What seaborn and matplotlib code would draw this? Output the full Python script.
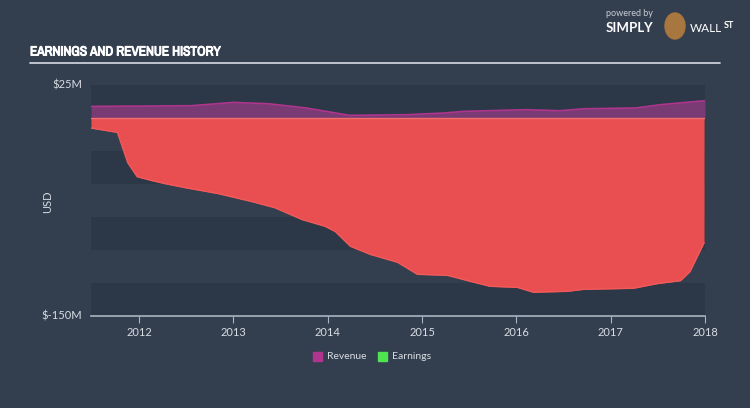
import matplotlib
matplotlib.use("Agg")
import matplotlib.pyplot as plt
import matplotlib.patheffects as pe
from matplotlib import font_manager
import seaborn as sns
import pandas as pd

# ---- data (USD millions) ----
earn_years = [2011.49, 2011.77, 2011.88, 2011.98, 2012.14, 2012.28, 2012.49, 2012.84,
              2013.20, 2013.44, 2013.73, 2013.97, 2014.08, 2014.24, 2014.45, 2014.74,
              2014.95, 2015.27, 2015.51, 2015.72, 2016.01, 2016.18, 2016.54, 2016.71,
              2017.24, 2017.49, 2017.74, 2017.84, 2017.99]
earnings = [-7.6, -10.9, -33.9, -44.5, -47.5, -49.8, -52.8, -57.3,
            -63.4, -68.0, -77.0, -82.0, -86.0, -97.2, -103.3, -109.3,
            -118.4, -119.2, -123.7, -127.5, -128.3, -132.0, -131.3, -129.8,
            -129.0, -125.5, -123.2, -116.4, -94.5]

rev_years = [2011.49, 2012.0, 2012.55, 2012.86, 2013.0, 2013.37, 2013.77, 2014.23,
             2014.84, 2015.24, 2015.44, 2016.10, 2016.46, 2016.72, 2017.27, 2017.53, 2018.0]
revenue = [8.8, 9.0, 9.3, 11.0, 11.8, 10.8, 7.6, 2.0,
           2.5, 3.8, 5.0, 6.3, 5.5, 7.0, 7.6, 10.1, 13.1]

year_ticks = [2012, 2013, 2014, 2015, 2016, 2017, 2018]
y_ticks = [25, -150]
y_tick_labels = ["$25M", "$-150M"]
legend_labels = ["Revenue", "Earnings"]

BG = "#333f4f"
DARK = "#2c3847"
REV_LINE = "#b0358f"
REV_FILL = "#7a3a73"
EARN_FILL = "#e94e50"
EARN_LINE = "#f25a5a"
EARN_LEG = "#4fe34f"
TXT = "#d8dde3"

sns.set_theme(style="dark")
plt.rcParams["font.family"] = ["Lato", "DejaVu Sans"]

# pick a narrow/condensed family for the title if one is installed
_fonts = font_manager.fontManager.ttflist
_narrow = sorted({f.name for f in _fonts if ("Narrow" in f.name or "Condensed" in f.name)})
if _narrow:
    title_kw = dict(family=[_narrow[0], "DejaVu Sans"], fontsize=9.6)
else:
    title_kw = dict(family=["DejaVu Sans"], fontsize=7.8)

fig = plt.figure(figsize=(7.5, 4.08), dpi=100, facecolor=BG)
ax = fig.add_axes([91 / 750, 1 - 316 / 408, (705 - 91) / 750, (316 - 85) / 408])
ax.set_facecolor(BG)

# background bands
for lo in range(-150, 25, 50):
    ax.axhspan(lo, lo + 25, color=DARK, zorder=0, lw=0)

df_e = pd.DataFrame({"year": earn_years, "value": earnings})
df_r = pd.DataFrame({"year": rev_years, "value": revenue})

ax.fill_between(df_r["year"], 0, df_r["value"], color=REV_FILL, lw=0, zorder=2)
ax.fill_between(df_e["year"], 0, df_e["value"], color=EARN_FILL, lw=0, zorder=2)
sns.lineplot(data=df_r, x="year", y="value", ax=ax, color=REV_LINE, lw=1.2, zorder=3)
sns.lineplot(data=df_e, x="year", y="value", ax=ax, color=EARN_LINE, lw=1.0, zorder=3)
ax.axhline(0, xmin=0, xmax=1, color="#f07070", lw=1.0, zorder=3)

ax.set_xlim(2011.49, 2018.0)
ax.set_ylim(-150, 25)
ax.set_xlabel("")
ax.set_ylabel("")
for s in ["top", "right", "left"]:
    ax.spines[s].set_visible(False)
ax.spines["bottom"].set_color("#a9b4c0")
ax.spines["bottom"].set_linewidth(1.2)
ax.spines["bottom"].set_zorder(4)
ax.set_xticks(year_ticks)
ax.set_xticklabels([str(y) for y in year_ticks], color=TXT, fontsize=8)
ax.tick_params(axis="x", bottom=True, length=5, width=0.8, color="#a9b4c0", pad=3)
ax.set_yticks([])
ax.grid(False)

# y labels
for v, lab in zip(y_ticks, y_tick_labels):
    ax.text(-0.015, v, lab, transform=ax.get_yaxis_transform(), ha="right", va="center",
            color=TXT, fontsize=8)
fig.text(48 / 750, 1 - 202 / 408, "USD", rotation=90, ha="center", va="center", color=TXT, fontsize=8)

# title
fig.text(30 / 750, 1 - 52 / 408, "EARNINGS AND REVENUE HISTORY", ha="left", va="center",
         color="white", fontweight="bold",
         path_effects=[pe.withStroke(linewidth=0.7, foreground="white")], **title_kw)
fig.add_artist(plt.Line2D([30 / 750, 720 / 750], [1 - 63 / 408, 1 - 63 / 408],
                          color="#c9d0d8", lw=1.3, transform=fig.transFigure))

# branding
fig.text(606 / 750, 1 - 14 / 408, "powered by", color="#c8ced6", fontsize=6.5, ha="left", va="center")
fig.text(606 / 750, 1 - 28 / 408, "SIMPLY", color="white", fontsize=9.5, fontweight="bold",
         ha="left", va="center")
fig.text(690 / 750, 1 - 28 / 408, "WALL", color="white", fontsize=8.5,
         ha="left", va="center")
fig.text(724 / 750, 1 - 26 / 408, "ST", color="white", fontsize=6.5, fontweight="bold",
         ha="left", va="center")
fig.add_artist(matplotlib.patches.Ellipse((675 / 750, 1 - 26 / 408), 20 / 750, 26 / 408,
                                          transform=fig.transFigure, color="#a8763f"))

# legend
leg_colors = [REV_LINE, EARN_LEG]
leg_x = [313, 378]
for lx, c, lab in zip(leg_x, leg_colors, legend_labels):
    fig.add_artist(matplotlib.patches.Rectangle((lx / 750, 1 - 361 / 408), 9 / 750, 9 / 408,
                                                transform=fig.transFigure, color=c))
    fig.text((lx + 14) / 750, 1 - 356.5 / 408, lab, color=TXT, fontsize=7.5,
             ha="left", va="center")

fig.savefig("out.png", dpi=100, facecolor=BG)
